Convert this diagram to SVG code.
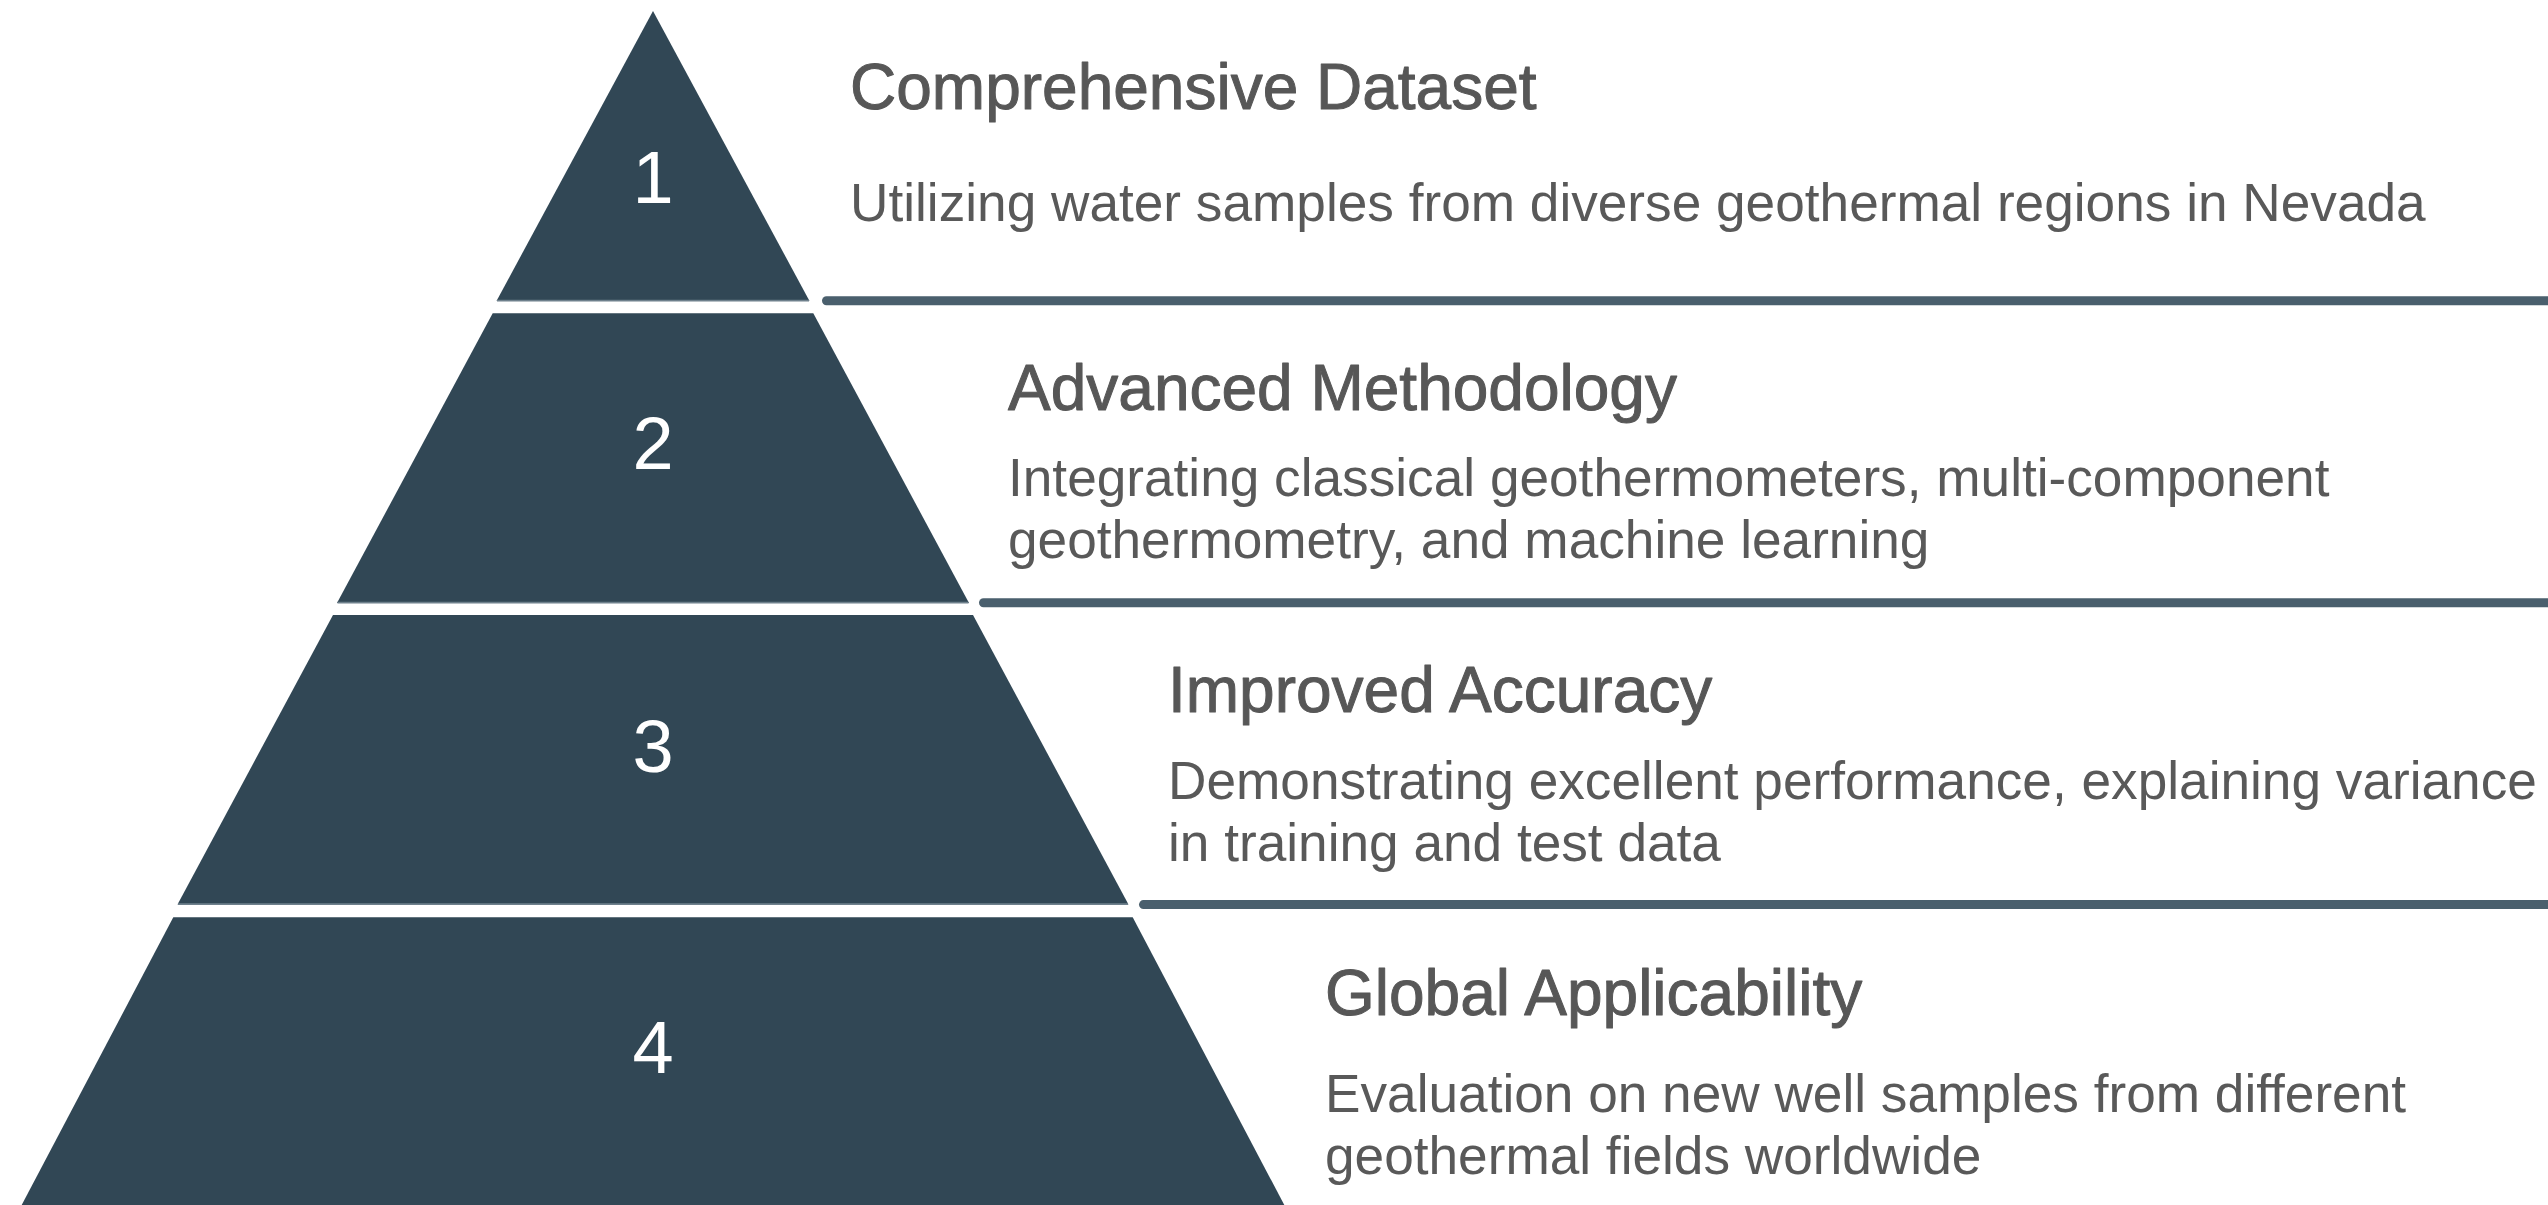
<svg xmlns="http://www.w3.org/2000/svg" width="2548" height="1205" viewBox="0 0 2548 1205">
  <style>
    .tier { fill: #314755; }
    .edge { stroke: #6e808c; stroke-width: 1.6; }
    .num { font-family: "Liberation Sans", Arial, sans-serif; font-size: 74px; fill: #ffffff; text-anchor: middle; }
    .title { font-family: "Liberation Sans", Arial, sans-serif; font-size: 64px; fill: #575757; stroke: #575757; stroke-width: 1; stroke-linejoin: round; }
    .body { font-family: "Liberation Sans", Arial, sans-serif; font-size: 53.2px; fill: #595959; }
    .rule { stroke: #4a5f6d; stroke-width: 9; stroke-linecap: round; }
  </style>
  <rect width="2548" height="1205" fill="#ffffff"/>

  <!-- separator rules running from each tier to the right edge -->
  <g id="connectors">
    <line class="rule" x1="826.5" y1="300.8" x2="2570" y2="300.8"/>
    <line class="rule" x1="983.5" y1="602.8" x2="2570" y2="602.8"/>
    <line class="rule" x1="1143.5" y1="904.6" x2="2570" y2="904.6"/>
  </g>

  <!-- tier 1 -->
  <g id="tier-1">
    <polygon class="tier" points="653,11 809.5,301 496.5,301"/>
    <line class="edge" x1="497" y1="300.6" x2="809" y2="300.6"/>
    <text class="num" x="653" y="203">1</text>
    <text class="title" x="850" y="109">Comprehensive Dataset</text>
    <text class="body" x="850" y="221">Utilizing water samples from diverse geothermal regions in Nevada</text>
  </g>

  <!-- tier 2 -->
  <g id="tier-2">
    <polygon class="tier" points="492.7,313.3 813.3,313.3 969,603 337,603"/>
    <line class="edge" x1="337.5" y1="602.6" x2="968.5" y2="602.6"/>
    <text class="num" x="653" y="469">2</text>
    <text class="title" x="1008" y="410">Advanced Methodology</text>
    <text class="body" x="1008" y="496">Integrating classical geothermometers, multi-component</text>
    <text class="body" x="1008" y="558">geothermometry, and machine learning</text>
  </g>

  <!-- tier 3 -->
  <g id="tier-3">
    <polygon class="tier" points="333,615 973,615 1128.5,904.5 177.5,904.5"/>
    <line class="edge" x1="178" y1="904.1" x2="1128" y2="904.1"/>
    <text class="num" x="653" y="772">3</text>
    <text class="title" x="1168" y="712">Improved Accuracy</text>
    <text class="body" x="1168" y="799">Demonstrating excellent performance, explaining variance</text>
    <text class="body" x="1168" y="861">in training and test data</text>
  </g>

  <!-- tier 4 -->
  <g id="tier-4">
    <polygon class="tier" points="173.3,917.3 1132.7,917.3 1288,1212 18,1212"/>
    <text class="num" x="653" y="1073">4</text>
    <text class="title" x="1325" y="1015">Global Applicability</text>
    <text class="body" x="1325" y="1112">Evaluation on new well samples from different</text>
    <text class="body" x="1325" y="1174">geothermal fields worldwide</text>
  </g>
</svg>
